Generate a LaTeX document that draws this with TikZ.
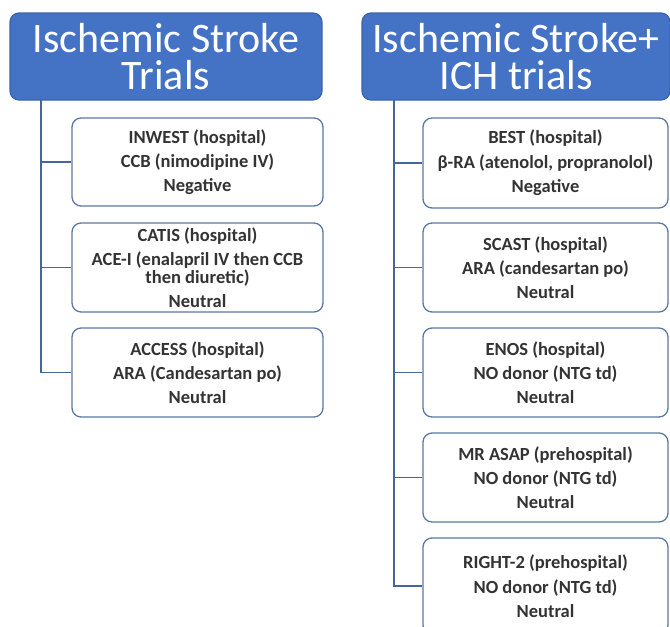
\documentclass[tikz,border=0pt]{standalone}
\usepackage{fontspec}
\setmainfont{Carlito}
\definecolor{hdrfill}{HTML}{4472C4}
\definecolor{hdrdraw}{HTML}{3A63AE}
\definecolor{boxdraw}{HTML}{5A78A3}
\definecolor{linecol}{HTML}{46659A}
\definecolor{txtcol}{HTML}{333333}
\tikzset{
  hdr/.style={draw=hdrdraw, fill=hdrfill, line width=1.2pt, rounded corners=9pt,
    text=white, align=center, inner sep=0pt,
    font=\fontsize{42}{37}\selectfont},
  trial/.style={draw=boxdraw, fill=white, line width=1.3pt, rounded corners=9pt,
    text=txtcol, align=center, inner sep=0pt,
    font=\fontsize{18.5}{15.5}\selectfont\bfseries},
  conn/.style={draw=linecol, line width=1.5pt},
}
\newcommand{\psep}{\\[7pt]}
\begin{document}
\begin{tikzpicture}[x=1pt,y=-1pt]
\useasboundingbox (0,0) rectangle (670,627);
\clip (0,0) rectangle (670,627);
% headers
\node[hdr, minimum width=312pt, minimum height=87pt] (hL) at (166,56.5) {Ischemic Stroke\\Trials};
\node[hdr, minimum width=308pt, minimum height=87pt] (hR) at (516,56.5) {Ischemic Stroke+\\ICH trials};
% left boxes
\node[trial, minimum width=251pt, minimum height=88pt] (l1) at (197.5,162) {INWEST (hospital)\psep CCB (nimodipine IV)\psep Negative};
\node[trial, minimum width=251pt, minimum height=89pt] (l2) at (197.5,267.5) {CATIS (hospital)\psep ACE-I (enalapril IV then CCB\\then diuretic)\psep Neutral};
\node[trial, minimum width=251pt, minimum height=89pt] (l3) at (197.5,372.5) {ACCESS (hospital)\psep ARA (Candesartan po)\psep Neutral};
% right boxes
\node[trial, minimum width=245pt, minimum height=90pt] (r1) at (545.5,163) {BEST (hospital)\psep β-RA (atenolol, propranolol)\psep Negative};
\node[trial, minimum width=245pt, minimum height=89pt] (r2) at (545.5,267.5) {SCAST (hospital)\psep ARA (candesartan po)\psep Neutral};
\node[trial, minimum width=245pt, minimum height=89pt] (r3) at (545.5,372.5) {ENOS (hospital)\psep NO donor (NTG td)\psep Neutral};
\node[trial, minimum width=245pt, minimum height=89pt] (r4) at (545.5,477.5) {MR ASAP (prehospital)\psep NO donor (NTG td)\psep Neutral};
\node[trial, minimum width=245pt, minimum height=96pt] (r5) at (545.5,586) {RIGHT-2 (prehospital)\psep NO donor (NTG td)\psep Neutral};
% connectors
\coordinate (tL) at (41,100);
\coordinate (tR) at (394,100);
\draw[conn] (tL) |- (l1.west);
\draw[conn] (tL) |- (l2.west);
\draw[conn] (tL) |- (l3.west);
\draw[conn] (tR) |- (r1.west);
\draw[conn] (tR) |- (r2.west);
\draw[conn] (tR) |- (r3.west);
\draw[conn] (tR) |- (r4.west);
\draw[conn] (tR) |- (r5.west);
\end{tikzpicture}
\end{document}
